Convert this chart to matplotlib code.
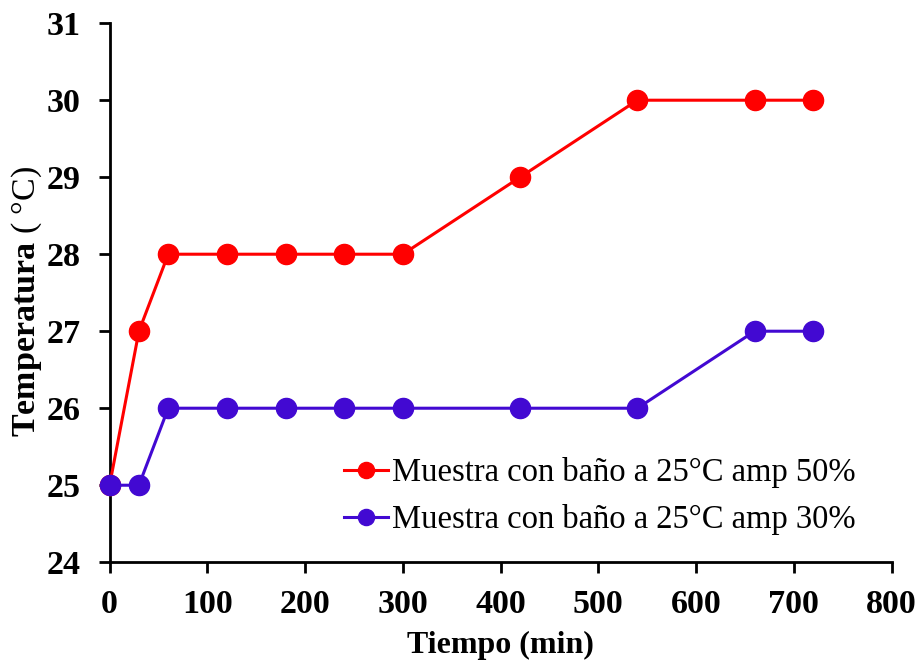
import matplotlib
matplotlib.use("Agg")
import matplotlib.pyplot as plt

tiempo = [0, 30, 60, 120, 180, 240, 300, 420, 540, 660, 720]
temp_50 = [25, 27, 28, 28, 28, 28, 28, 29, 30, 30, 30]
temp_30 = [25, 25, 26, 26, 26, 26, 26, 26, 26, 27, 27]
etiquetas = ["Muestra con baño a 25°C amp 50%", "Muestra con baño a 25°C amp 30%"]
colores = ["#FF0000", "#4209D2"]

plt.rcParams["font.family"] = ["Liberation Serif", "DejaVu Serif"]
plt.rcParams["mathtext.fontset"] = "custom"
plt.rcParams["mathtext.rm"] = "Liberation Serif"
plt.rcParams["mathtext.bf"] = "Liberation Serif:bold"

fig = plt.figure(figsize=(9.21, 6.63), dpi=100)
ax = fig.add_axes([0.119, 0.152, 0.849, 0.813])

ax.plot(tiempo, temp_50, color=colores[0], marker="o", markersize=14.5,
        linewidth=2.2, label=etiquetas[0], clip_on=False, zorder=3)
ax.plot(tiempo, temp_30, color=colores[1], marker="o", markersize=14.5,
        linewidth=2.2, label=etiquetas[1], clip_on=False, zorder=3)

ax.set_xlim(0, 800)
ax.set_ylim(24, 31)
ax.set_xticks(range(0, 801, 100))
ax.set_yticks(range(24, 32))

for s in ["top", "right"]:
    ax.spines[s].set_visible(False)
for s in ["left", "bottom"]:
    ax.spines[s].set_linewidth(2)

ax.tick_params(axis="both", direction="out", length=8, width=2,
               labelsize=24.5)
ax.tick_params(axis="x", pad=11)
ax.tick_params(axis="y", pad=13)
for lbl in ax.get_xticklabels() + ax.get_yticklabels():
    lbl.set_fontweight("bold")

ax.set_xlabel("Tiempo (min)", fontsize=23, fontweight="bold", labelpad=8)
ax.set_ylabel(r"$\mathbf{Temperatura}$ ( °C)", fontsize=24.5)
ax.yaxis.set_label_coords(-0.084, 0.484)

ax.legend(loc="upper left", bbox_to_anchor=(0.3, 0.195), frameon=False,
          fontsize=23.5, handlelength=1.35, handletextpad=0.1,
          labelspacing=0.5, markerscale=0.8, borderpad=0, borderaxespad=0)

fig.savefig("out.png", dpi=100)
